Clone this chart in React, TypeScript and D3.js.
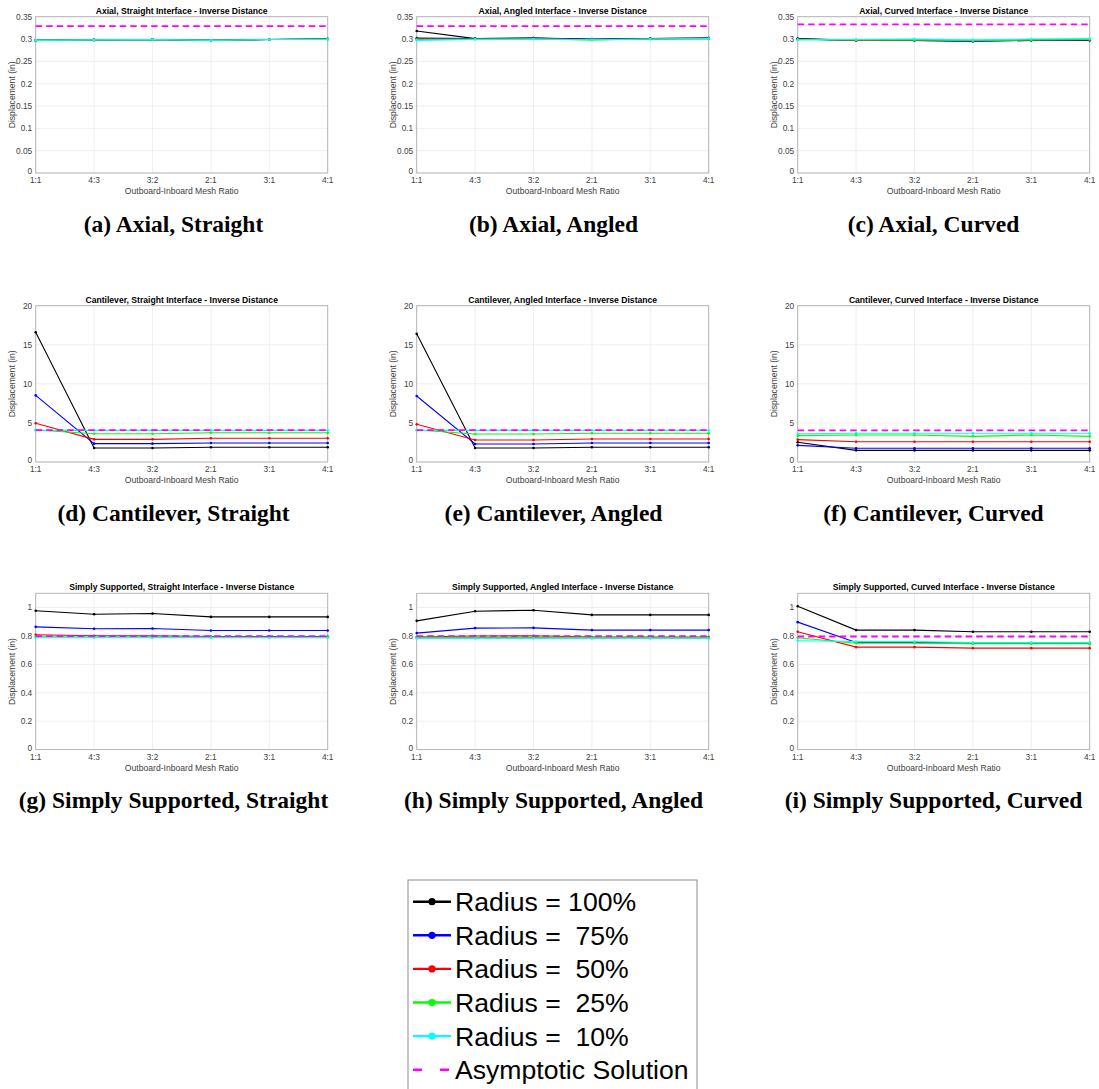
import React from 'react';
import * as d3 from 'd3';

const ratios = ['1:1', '4:3', '3:2', '2:1', '3:1', '4:1'];
const seriesNames = ['Radius = 100%', 'Radius =  75%', 'Radius =  50%', 'Radius =  25%', 'Radius =  10%'];
const seriesColors = ['#000000', '#0000ff', '#ff0000', '#00ff00', '#00ffff'];
const asymName = 'Asymptotic Solution';
const asymColor = '#ff00ff';

// axial
const axialStraight = [
  [0.297, 0.298, 0.299, 0.297, 0.299, 0.300],
  [0.297, 0.298, 0.299, 0.297, 0.299, 0.300],
  [0.297, 0.298, 0.299, 0.297, 0.299, 0.300],
  [0.297, 0.298, 0.299, 0.297, 0.299, 0.300],
  [0.297, 0.298, 0.299, 0.297, 0.299, 0.299],
];
const axialAngled = [
  [0.318, 0.301, 0.302, 0.300, 0.301, 0.302],
  [0.302, 0.301, 0.302, 0.299, 0.301, 0.302],
  [0.300, 0.300, 0.301, 0.299, 0.300, 0.301],
  [0.299, 0.300, 0.300, 0.298, 0.300, 0.301],
  [0.297, 0.299, 0.300, 0.298, 0.300, 0.301],
];
const axialCurved = [
  [0.301, 0.297, 0.297, 0.295, 0.297, 0.297],
  [0.300, 0.297, 0.297, 0.295, 0.297, 0.298],
  [0.300, 0.297, 0.298, 0.296, 0.298, 0.298],
  [0.299, 0.298, 0.298, 0.296, 0.298, 0.299],
  [0.298, 0.299, 0.300, 0.298, 0.300, 0.301],
];
// cantilever
const cantStraight = [
  [16.6, 1.79, 1.79, 1.88, 1.88, 1.88],
  [8.53, 2.35, 2.35, 2.43, 2.43, 2.43],
  [4.95, 2.90, 2.90, 3.03, 3.03, 3.03],
  [4.09, 3.62, 3.62, 3.75, 3.75, 3.75],
  [4.05, 4.05, 4.05, 4.05, 4.05, 4.05],
];
const cantAngled = [
  [16.4, 1.79, 1.79, 1.88, 1.88, 1.88],
  [8.44, 2.30, 2.30, 2.43, 2.43, 2.43],
  [4.82, 2.81, 2.81, 2.94, 2.94, 2.94],
  [4.09, 3.58, 3.58, 3.67, 3.67, 3.67],
  [4.05, 4.05, 4.05, 4.05, 4.05, 4.05],
];
const cantCurved = [
  [2.52, 1.49, 1.49, 1.49, 1.49, 1.49],
  [2.13, 1.75, 1.75, 1.75, 1.75, 1.75],
  [2.86, 2.60, 2.60, 2.60, 2.60, 2.60],
  [3.37, 3.45, 3.45, 3.28, 3.45, 3.28],
  [3.62, 3.67, 3.67, 3.67, 3.67, 3.67],
];
// simply supported
const ssStraight = [
  [0.977, 0.953, 0.958, 0.934, 0.934, 0.934],
  [0.864, 0.850, 0.852, 0.838, 0.838, 0.838],
  [0.808, 0.801, 0.801, 0.796, 0.796, 0.796],
  [0.794, 0.792, 0.793, 0.791, 0.791, 0.791],
  [0.787, 0.787, 0.787, 0.787, 0.787, 0.787],
];
const ssAngled = [
  [0.906, 0.974, 0.981, 0.948, 0.948, 0.948],
  [0.820, 0.855, 0.857, 0.841, 0.841, 0.841],
  [0.792, 0.799, 0.801, 0.792, 0.792, 0.792],
  [0.787, 0.788, 0.788, 0.787, 0.787, 0.787],
  [0.782, 0.782, 0.782, 0.782, 0.782, 0.782],
];
const ssCurved = [
  [1.009, 0.841, 0.841, 0.829, 0.829, 0.829],
  [0.897, 0.754, 0.754, 0.749, 0.749, 0.749],
  [0.829, 0.721, 0.721, 0.714, 0.714, 0.714],
  [0.787, 0.749, 0.749, 0.745, 0.745, 0.745],
  [0.766, 0.761, 0.761, 0.754, 0.754, 0.754],
];

const asymptotic = [0.329, 0.329, 0.333, 4.09, 4.09, 4.05, 0.799, 0.799, 0.796];

const titles = [
  'Axial, Straight Interface - Inverse Distance',
  'Axial, Angled Interface - Inverse Distance',
  'Axial, Curved Interface - Inverse Distance',
  'Cantilever, Straight Interface - Inverse Distance',
  'Cantilever, Angled Interface - Inverse Distance',
  'Cantilever, Curved Interface - Inverse Distance',
  'Simply Supported, Straight Interface - Inverse Distance',
  'Simply Supported, Angled Interface - Inverse Distance',
  'Simply Supported, Curved Interface - Inverse Distance',
];
const captions = [
  '(a) Axial, Straight', '(b) Axial, Angled', '(c) Axial, Curved',
  '(d) Cantilever, Straight', '(e) Cantilever, Angled', '(f) Cantilever, Curved',
  '(g) Simply Supported, Straight', '(h) Simply Supported, Angled', '(i) Simply Supported, Curved',
];
const panelData = [axialStraight, axialAngled, axialCurved, cantStraight, cantAngled, cantCurved, ssStraight, ssAngled, ssCurved];

const rowDomains = [[0, 0.35], [0, 20], [0, 1.1]];
const rowTicks = [
  [0, 0.05, 0.1, 0.15, 0.2, 0.25, 0.3, 0.35],
  [0, 5, 10, 15, 20],
  [0, 0.2, 0.4, 0.6, 0.8, 1],
];

const sans = 'Liberation Sans, Arial, Helvetica, sans-serif';
const serif = 'Liberation Serif, Times New Roman, serif';

const colX = [35.7, 416.7, 797.7];
const rowY = [16.7, 305.7, 593.3];
const plotW = 292;
const plotH = 156.3;

const Panel = ({ idx }: { idx: number }) => {
  const row = Math.floor(idx / 3);
  const col = idx % 3;
  const x = d3.scalePoint<string>().domain(ratios).range([0, plotW]);
  const y = d3.scaleLinear().domain(rowDomains[row]).range([plotH, 0]);
  const line = d3.line<number>()
    .x((_, i) => x(ratios[i]) as number)
    .y((d) => y(d));
  const data = panelData[idx];
  const asym = ratios.map(() => asymptotic[idx]);

  return (
    <g transform={`translate(${colX[col]},${rowY[row]})`}>
      {/* grid */}
      {ratios.map((r) => (
        <line key={`gx${r}`} x1={x(r)} x2={x(r)} y1={0} y2={plotH} stroke="#ebebeb" strokeWidth={0.8} />
      ))}
      {rowTicks[row].map((t) => (
        <line key={`gy${t}`} x1={0} x2={plotW} y1={y(t)} y2={y(t)} stroke="#ebebeb" strokeWidth={0.8} />
      ))}
      <rect x={0} y={0} width={plotW} height={plotH} fill="none" stroke="#b0b0b0" strokeWidth={0.9} />
      {/* ticks */}
      {rowTicks[row].map((t) => (
        <text key={`ty${t}`} x={-3.5} y={y(t)} dy={t === 0 ? '0.15em' : '0.35em'} textAnchor="end" fontFamily={sans} fontSize={8.3} fill="#404040">{t}</text>
      ))}
      {ratios.map((r) => (
        <text key={`tx${r}`} x={x(r)} y={plotH + 10} textAnchor="middle" fontFamily={sans} fontSize={8.3} fill="#404040">{r}</text>
      ))}
      <text x={plotW / 2} y={plotH + 21.5} textAnchor="middle" fontFamily={sans} fontSize={8.6} fill="#404040">Outboard-Inboard Mesh Ratio</text>
      <text transform={`translate(${-21},${plotH / 2}) rotate(-90)`} textAnchor="middle" fontFamily={sans} fontSize={8.6} fill="#404040">Displacement (in)</text>
      <text x={plotW / 2} y={-3.2} textAnchor="middle" fontFamily={sans} fontSize={8.6} fontWeight="bold" fill="#000">{titles[idx]}</text>
      {/* series */}
      {data.map((s, si) => (
        <g key={`s${si}`}>
          <path d={line(s) || ''} fill="none" stroke={seriesColors[si]} strokeWidth={1.1} />
          {s.map((v, i) => (
            <circle key={i} cx={x(ratios[i])} cy={y(v)} r={1.3} fill={seriesColors[si]} />
          ))}
        </g>
      ))}
      <path d={line(asym) || ''} fill="none" stroke={asymColor} strokeWidth={1.8} strokeDasharray="6.5,4" />
      <text x={173.5 + 380 * col - colX[col]} y={231.7 - rowY[0]} textAnchor="middle" fontFamily={serif} fontSize={23.5} fontWeight="bold" fill="#000">{captions[idx]}</text>
    </g>
  );
};

const Legend = () => {
  const top = 901.7;
  const step = 33.6;
  const names = [...seriesNames, asymName];
  const colors = [...seriesColors, asymColor];
  return (
    <g>
      <rect x={408} y={880} width={289} height={220} fill="#fff" stroke="#8c8c8c" strokeWidth={1} />
      {names.map((n, i) => {
        const cy = top + i * step;
        const isAsym = i === names.length - 1;
        return (
          <g key={n}>
            {isAsym ? (
              <line x1={413} x2={451} y1={cy} y2={cy} stroke={colors[i]} strokeWidth={2.6} strokeDasharray="9,18" />
            ) : (
              <>
                <line x1={413} x2={451} y1={cy} y2={cy} stroke={colors[i]} strokeWidth={2.4} />
                <circle cx={432} cy={cy} r={3.6} fill={colors[i]} />
              </>
            )}
            <text x={455} y={cy} dy="0.36em" fontFamily={sans} fontSize={26.6} fill="#000" style={{ whiteSpace: 'pre' }}>{n}</text>
          </g>
        );
      })}
    </g>
  );
};

export default function App() {
  return (
    <svg width={1099} height={1089} style={{ position: 'absolute', left: 0, top: 0, background: '#fff' }}>
      <rect width={1099} height={1089} fill="#fff" />
      {panelData.map((_, i) => <Panel key={i} idx={i} />)}
      <Legend />
    </svg>
  );
}
